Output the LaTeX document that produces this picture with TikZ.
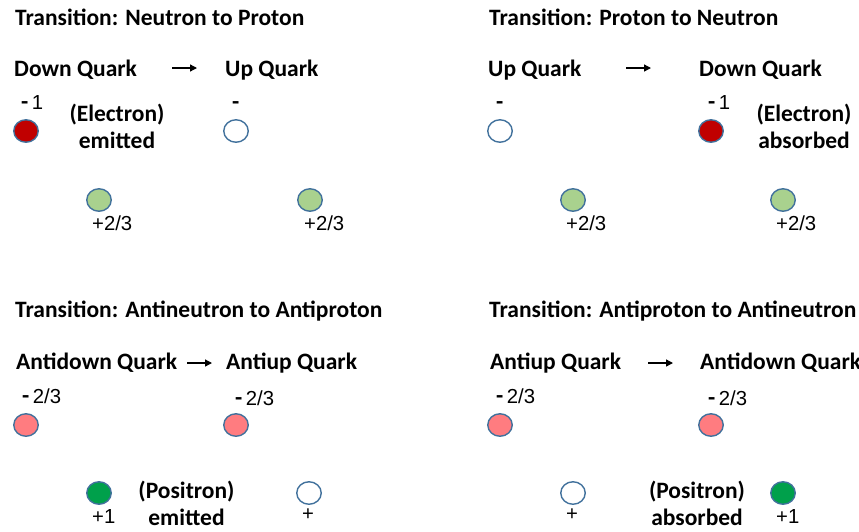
\documentclass[tikz,border=0pt]{standalone}
\usepackage{fontspec}
\setmainfont{Carlito}
\newfontfamily\numfont{Liberation Sans}
\usetikzlibrary{arrows.meta,shapes.geometric}

\definecolor{qborder}{HTML}{41719C}
\definecolor{qred}{HTML}{C00000}
\definecolor{qlgreen}{HTML}{A9D18E}
\definecolor{qdgreen}{HTML}{00A04B}
\definecolor{qpink}{HTML}{FF7C80}

% bold minus sign in the heading font, followed by a small gap
\newcommand\qminus{{\fontsize{23.5}{27}\selectfont\bfseries\rmfamily -}\hspace{3.5pt}}

\tikzset{
  head/.style={font=\fontsize{23.5}{27}\selectfont\bfseries, anchor=base west, inner sep=0pt},
  % two-line notes: the base anchor sits on the baseline of the last line
  note/.style={font=\fontsize{23.5}{27}\selectfont\bfseries, align=center, anchor=base, inner sep=0pt},
  charge/.style={font=\fontsize{20.3}{24}\selectfont\numfont, anchor=base west, inner sep=0pt},
  quark/.style={ellipse, draw=qborder, line width=1.4pt, minimum width=24.5pt, minimum height=22.5pt, inner sep=0pt},
  arr/.style={line width=1.3pt, -{Triangle[length=7pt,width=7pt]}},
}

\begin{document}
\begin{tikzpicture}[x=1pt,y=-1pt]
\useasboundingbox (0,0) rectangle (859,531);
\clip (0,0) rectangle (859,531);

% ---------- Neutron to proton ----------
\node[head] (t1) at (15,25) {Transition: Neutron to Proton};
\node[head] (q1a) at (14,76) {Down Quark};
\node[head] (q1b) at (225,76) {Up Quark};
\coordinate (a1s) at (172,68);
\coordinate (a1e) at (197,68);
\draw[arr] (a1s) -- (a1e);
\node[charge] (c1a) at (21,109) {\qminus1};
\node[charge] (c1b) at (232,109) {\qminus};
\node[quark, fill=qred] (p1a) at (26,131) {};
\node[quark, fill=white] (p1b) at (236,131) {};
\node[note] (n1) at (117,148) {(Electron)\\emitted};
\node[quark, fill=qlgreen] (g1a) at (99,200) {};
\node[quark, fill=qlgreen] (g1b) at (310,200) {};
\node[charge] (l1a) at (92,230) {+2/3};
\node[charge] (l1b) at (304,230) {+2/3};

% ---------- Proton to neutron ----------
\node[head] (t2) at (489,25) {Transition: Proton to Neutron};
\node[head] (q2a) at (488,76) {Up Quark};
\node[head] (q2b) at (699,76) {Down Quark};
\coordinate (a2s) at (626,68);
\coordinate (a2e) at (651,68);
\draw[arr] (a2s) -- (a2e);
\node[charge] (c2a) at (496,109) {\qminus};
\node[charge] (c2b) at (708,109) {\qminus1};
\node[quark, fill=white] (p2a) at (500,131) {};
\node[quark, fill=qred] (p2b) at (711,131) {};
\node[note] (n2) at (804,148) {(Electron)\\absorbed};
\node[quark, fill=qlgreen] (g2a) at (573,200) {};
\node[quark, fill=qlgreen] (g2b) at (783,200) {};
\node[charge] (l2a) at (566,230) {+2/3};
\node[charge] (l2b) at (776,230) {+2/3};

% ---------- Antineutron to antiproton ----------
\node[head] (t3) at (15,317) {Transition: Antineutron to Antiproton};
\node[head] (q3a) at (16,369) {Antidown Quark};
\node[head] (q3b) at (226,369) {Antiup Quark};
\coordinate (a3s) at (187,363);
\coordinate (a3e) at (212,363);
\draw[arr] (a3s) -- (a3e);
\node[charge] (c3a) at (22,403) {\qminus2/3};
\node[charge] (c3b) at (235,405) {\qminus2/3};
\node[quark, fill=qpink] (p3a) at (26,425) {};
\node[quark, fill=qpink] (p3b) at (236,425) {};
\node[quark, fill=qdgreen] (g3a) at (99,493) {};
\node[quark, fill=white] (g3b) at (309,493) {};
\node[note] (n3) at (186.5,525) {(Positron)\\emitted};
\node[charge] (l3a) at (92,523) {+1};
\node[charge] (l3b) at (302,520) {+};

% ---------- Antiproton to antineutron ----------
\node[head] (t4) at (489,317) {Transition: Antiproton to Antineutron};
\node[head] (q4a) at (490,369) {Antiup Quark};
\node[head] (q4b) at (700,369) {Antidown Quark};
\coordinate (a4s) at (648,363);
\coordinate (a4e) at (673,363);
\draw[arr] (a4s) -- (a4e);
\node[charge] (c4a) at (496,403) {\qminus2/3};
\node[charge] (c4b) at (708,405) {\qminus2/3};
\node[quark, fill=qpink] (p4a) at (500,425) {};
\node[quark, fill=qpink] (p4b) at (711,425) {};
\node[quark, fill=white] (g4a) at (573,493) {};
\node[quark, fill=qdgreen] (g4b) at (783,493) {};
\node[note] (n4) at (697,525) {(Positron)\\absorbed};
\node[charge] (l4a) at (566,520) {+};
\node[charge] (l4b) at (776,523) {+1};
\end{tikzpicture}
\end{document}
